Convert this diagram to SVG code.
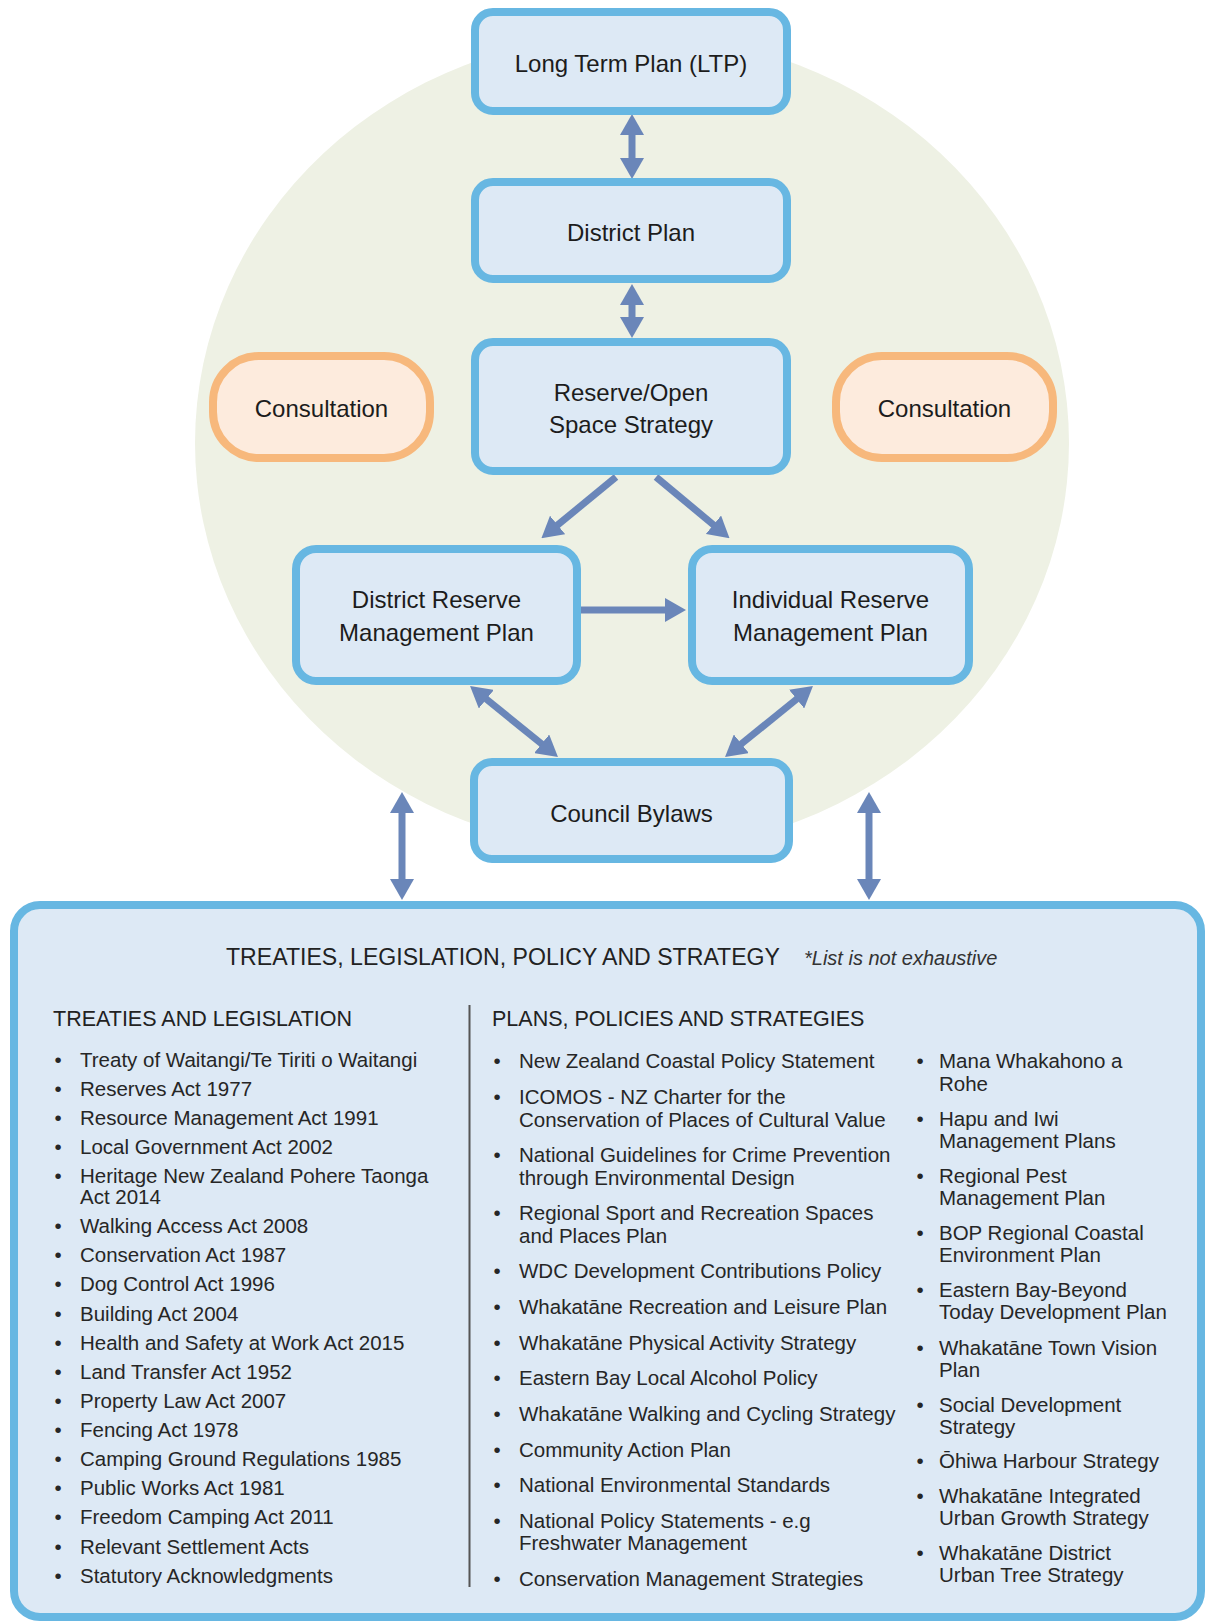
<svg xmlns="http://www.w3.org/2000/svg" width="1208" height="1623" viewBox="0 0 1208 1623">
  <defs>
    <style>
      .box { fill: #dde9f5; stroke: #67b7e2; stroke-width: 8; }
      .consult { fill: #fdebdd; stroke: #f7b87c; stroke-width: 8; }
      .label { font-family: "Liberation Sans", Arial, sans-serif; font-size: 24px; fill: #1c1c1c; text-anchor: middle; }
      .link { fill: none; stroke: #6a86b9; stroke-width: 7; }
      .two { marker-start: url(#head); marker-end: url(#head); }
      .one { marker-end: url(#head); }
      .title { font-family: "Liberation Sans", Arial, sans-serif; font-size: 23.1px; fill: #222; }
      .note { font-style: italic; font-size: 20px; fill: #333; }
      .head { font-family: "Liberation Sans", Arial, sans-serif; font-size: 21.5px; fill: #222; }
      .item { font-family: "Liberation Sans", Arial, sans-serif; font-size: 20.5px; fill: #262626; }
    </style>
    <marker id="head" viewBox="0 0 21 24" refX="6" refY="12" markerWidth="21" markerHeight="24" markerUnits="userSpaceOnUse" orient="auto-start-reverse">
      <path d="M0,0 L21,12 L0,24 Z" fill="#6a86b9"/>
    </marker>
  </defs>

  <rect width="1208" height="1623" fill="#ffffff"/>

  <!-- backdrop -->
  <ellipse id="backdrop" cx="632" cy="443" rx="437" ry="409" fill="#eef1e4"/>

  <!-- connectors -->
  <g id="connectors">
    <line class="link two" x1="632" y1="129" x2="632" y2="164"/>
    <line class="link two" x1="632" y1="299" x2="632" y2="323"/>
    <line class="link one" x1="616" y1="477" x2="553" y2="528.8"/>
    <line class="link one" x1="656" y1="477" x2="718" y2="528.6"/>
    <line class="link one" x1="581" y1="610" x2="671" y2="610"/>
    <line class="link two" x1="481.7" y1="695.4" x2="546.3" y2="747.6"/>
    <line class="link two" x1="801.3" y1="695.4" x2="736.7" y2="747.6"/>
    <line class="link two" x1="402" y1="807" x2="402" y2="885"/>
    <line class="link two" x1="869" y1="807" x2="869" y2="885"/>
  </g>

  <g id="ltp">
    <rect class="box" x="475" y="12" width="312" height="99" rx="18"/>
    <text class="label" x="631" y="72">Long Term Plan (LTP)</text>
  </g>

  <g id="district-plan">
    <rect class="box" x="475" y="182" width="312" height="97" rx="18"/>
    <text class="label" x="631" y="241">District Plan</text>
  </g>

  <g id="open-space-strategy">
    <rect class="box" x="475" y="342" width="312" height="129" rx="18"/>
    <text class="label" x="631" y="401">Reserve/Open</text>
    <text class="label" x="631" y="433">Space Strategy</text>
  </g>

  <g id="consultation-left">
    <rect class="consult" x="213" y="356" width="217" height="102" rx="46"/>
    <text class="label" x="321.5" y="417">Consultation</text>
  </g>

  <g id="consultation-right">
    <rect class="consult" x="836" y="356" width="217" height="102" rx="46"/>
    <text class="label" x="944.5" y="417">Consultation</text>
  </g>

  <g id="district-rmp">
    <rect class="box" x="296" y="549" width="281" height="132" rx="20"/>
    <text class="label" x="436.5" y="608">District Reserve</text>
    <text class="label" x="436.5" y="641">Management Plan</text>
  </g>

  <g id="individual-rmp">
    <rect class="box" x="692" y="549" width="277" height="132" rx="20"/>
    <text class="label" x="830.5" y="608">Individual Reserve</text>
    <text class="label" x="830.5" y="641">Management Plan</text>
  </g>

  <g id="council-bylaws">
    <rect class="box" x="474" y="762" width="315" height="97" rx="18"/>
    <text class="label" x="631.5" y="822">Council Bylaws</text>
  </g>

  <g id="framework">
    <rect class="box" x="14" y="905" width="1187" height="712" rx="26"/>
    <text class="title" x="226" y="965">TREATIES, LEGISLATION, POLICY AND STRATEGY<tspan class="note" x="804">*List is not exhaustive</tspan></text>

    <line x1="469.5" y1="1005" x2="469.5" y2="1587" stroke="#555" stroke-width="2"/>

    <!-- treaties and legislation -->
    <text class="head" x="53" y="1026">TREATIES AND LEGISLATION</text>
    <g class="item">
      <text x="54.5" y="1067">•</text><text x="80" y="1067">Treaty of Waitangi/Te Tiriti o Waitangi</text>
      <text x="54.5" y="1096">•</text><text x="80" y="1096">Reserves Act 1977</text>
      <text x="54.5" y="1125">•</text><text x="80" y="1125">Resource Management Act 1991</text>
      <text x="54.5" y="1154">•</text><text x="80" y="1154">Local Government Act 2002</text>
      <text x="54.5" y="1183">•</text><text x="80" y="1183">Heritage New Zealand Pohere Taonga<tspan x="80" y="1203.5">Act 2014</tspan></text>
      <text x="54.5" y="1233">•</text><text x="80" y="1233">Walking Access Act 2008</text>
      <text x="54.5" y="1262">•</text><text x="80" y="1262">Conservation Act 1987</text>
      <text x="54.5" y="1291">•</text><text x="80" y="1291">Dog Control Act 1996</text>
      <text x="54.5" y="1321">•</text><text x="80" y="1321">Building Act 2004</text>
      <text x="54.5" y="1350">•</text><text x="80" y="1350">Health and Safety at Work Act 2015</text>
      <text x="54.5" y="1379">•</text><text x="80" y="1379">Land Transfer Act 1952</text>
      <text x="54.5" y="1408">•</text><text x="80" y="1408">Property Law Act 2007</text>
      <text x="54.5" y="1437">•</text><text x="80" y="1437">Fencing Act 1978</text>
      <text x="54.5" y="1466">•</text><text x="80" y="1466">Camping Ground Regulations 1985</text>
      <text x="54.5" y="1495">•</text><text x="80" y="1495">Public Works Act 1981</text>
      <text x="54.5" y="1524">•</text><text x="80" y="1524">Freedom Camping Act 2011</text>
      <text x="54.5" y="1554">•</text><text x="80" y="1554">Relevant Settlement Acts</text>
      <text x="54.5" y="1583">•</text><text x="80" y="1583">Statutory Acknowledgments</text>
    </g>

    <!-- plans, policies and strategies -->
    <text class="head" x="492" y="1026">PLANS, POLICIES AND STRATEGIES</text>
    <g class="item">
      <text x="493.5" y="1068">•</text><text x="519" y="1068">New Zealand Coastal Policy Statement</text>
      <text x="493.5" y="1104">•</text><text x="519" y="1104">ICOMOS - NZ Charter for the<tspan x="519" y="1126.5">Conservation of Places of Cultural Value</tspan></text>
      <text x="493.5" y="1162">•</text><text x="519" y="1162">National Guidelines for Crime Prevention<tspan x="519" y="1184.5">through Environmental Design</tspan></text>
      <text x="493.5" y="1220">•</text><text x="519" y="1220">Regional Sport and Recreation Spaces<tspan x="519" y="1242.5">and Places Plan</tspan></text>
      <text x="493.5" y="1278">•</text><text x="519" y="1278">WDC Development Contributions Policy</text>
      <text x="493.5" y="1313.5">•</text><text x="519" y="1313.5">Whakatāne Recreation and Leisure Plan</text>
      <text x="493.5" y="1349.5">•</text><text x="519" y="1349.5">Whakatāne Physical Activity Strategy</text>
      <text x="493.5" y="1385">•</text><text x="519" y="1385">Eastern Bay Local Alcohol Policy</text>
      <text x="493.5" y="1421">•</text><text x="519" y="1421">Whakatāne Walking and Cycling Strategy</text>
      <text x="493.5" y="1456.5">•</text><text x="519" y="1456.5">Community Action Plan</text>
      <text x="493.5" y="1492">•</text><text x="519" y="1492">National Environmental Standards</text>
      <text x="493.5" y="1527.5">•</text><text x="519" y="1527.5">National Policy Statements - e.g<tspan x="519" y="1550">Freshwater Management</tspan></text>
      <text x="493.5" y="1585.5">•</text><text x="519" y="1585.5">Conservation Management Strategies</text>

      <text x="916.5" y="1068">•</text><text x="939" y="1068">Mana Whakahono a<tspan x="939" y="1091">Rohe</tspan></text>
      <text x="916.5" y="1126">•</text><text x="939" y="1126">Hapu and Iwi<tspan x="939" y="1148">Management Plans</tspan></text>
      <text x="916.5" y="1183">•</text><text x="939" y="1183">Regional Pest<tspan x="939" y="1205">Management Plan</tspan></text>
      <text x="916.5" y="1240">•</text><text x="939" y="1240">BOP Regional Coastal<tspan x="939" y="1262">Environment Plan</tspan></text>
      <text x="916.5" y="1297">•</text><text x="939" y="1297">Eastern Bay-Beyond<tspan x="939" y="1319">Today Development Plan</tspan></text>
      <text x="916.5" y="1355">•</text><text x="939" y="1355">Whakatāne Town Vision<tspan x="939" y="1377">Plan</tspan></text>
      <text x="916.5" y="1412">•</text><text x="939" y="1412">Social Development<tspan x="939" y="1433.5">Strategy</tspan></text>
      <text x="916.5" y="1468">•</text><text x="939" y="1468">Ōhiwa Harbour Strategy</text>
      <text x="916.5" y="1503">•</text><text x="939" y="1503">Whakatāne Integrated<tspan x="939" y="1525">Urban Growth Strategy</tspan></text>
      <text x="916.5" y="1560">•</text><text x="939" y="1560">Whakatāne District<tspan x="939" y="1582">Urban Tree Strategy</tspan></text>
    </g>
  </g>
</svg>
